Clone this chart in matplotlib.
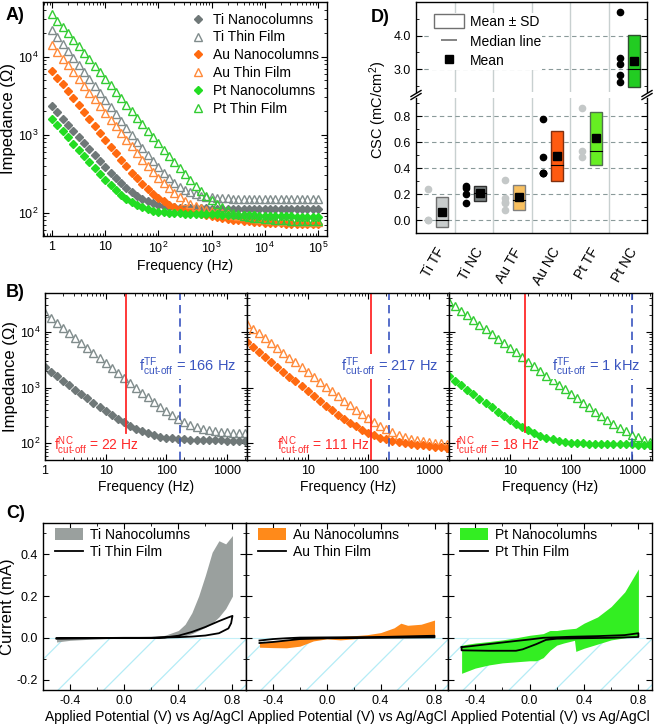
import numpy as np
import matplotlib
matplotlib.use("Agg")
import matplotlib.pyplot as plt
from matplotlib import ticker
from matplotlib.patches import Rectangle, Patch
from matplotlib.lines import Line2D

plt.rcParams.update({
    "font.family": ["Liberation Sans", "DejaVu Sans"],
    "font.size": 10,
    "xtick.labelsize": 9,
    "ytick.labelsize": 9,
    "mathtext.fontset": "custom",
    "mathtext.rm": "Liberation Sans",
    "mathtext.it": "Liberation Sans:italic",
    "mathtext.bf": "Liberation Sans:bold",
    "axes.unicode_minus": False,
    "xtick.direction": "in", "ytick.direction": "in",
    "xtick.top": True, "ytick.right": True,
    "xtick.major.size": 4, "ytick.major.size": 4,
    "xtick.minor.size": 2, "ytick.minor.size": 2,
    "axes.linewidth": 1.0,
})
YLAB = 12

# ====== A / B: impedance spectra ======
freq = [1, 1.259, 1.585, 1.995, 2.512, 3.162, 3.981, 5.012, 6.31, 7.943,
        10, 12.59, 15.85, 19.95, 25.12, 31.62, 39.81, 50.12, 63.1, 79.43,
        100, 125.9, 158.5, 199.5, 251.2, 316.2, 398.1, 501.2, 631, 794.3,
        1000, 1259, 1585, 1995, 2512, 3162, 3981, 5012, 6310, 7943,
        10000, 12590, 15850, 19950, 25120, 31620, 39810, 50120, 63100, 79430, 100000]

z_ti_nc = [2300, 1916, 1595, 1328, 1107, 923, 770, 643, 539, 452,
           382, 323, 276, 238, 208, 183, 165, 150, 140, 132,
           126, 122, 119, 117, 115, 114, 114, 113, 113, 113,
           112, 112, 112, 112, 112, 112, 112, 112, 112, 112,
           112, 112, 112, 112, 112, 111, 111, 111, 111, 111, 111]
z_ti_tf = [22000, 17880, 14540, 11810, 9600, 7800, 6350, 5160, 4190, 3410,
           2770, 2255, 1836, 1496, 1218, 994, 813, 666, 549, 454,
           380, 321, 275, 240, 214, 195, 181, 171, 164, 159,
           156, 154, 153, 152, 151, 151, 150, 150, 150, 150,
           149, 149, 149, 149, 148, 148, 148, 148, 148, 147, 147]
z_au_nc = [6600, 5378, 4381, 3571, 2910, 2372, 1933, 1576, 1286, 1050,
           857, 702, 575, 473, 391, 325, 273, 232, 200, 174,
           154, 139, 126, 117, 111, 106, 101, 97.6, 94.4, 91.6,
           89.1, 86.8, 84.6, 82.6, 80.6, 79.4, 78.2, 77.1, 76.1, 75,
           74, 74, 73, 73, 72, 72, 72, 71, 71, 71, 71]
z_au_tf = [14000, 11460, 9380, 7680, 6280, 5140, 4210, 3446, 2822, 2310,
           1892, 1550, 1270, 1042, 855, 703, 579, 478, 396, 331,
           279, 237, 204, 178, 158, 142, 130, 121, 114, 109,
           106, 102, 99, 96, 93, 91, 89, 86.5, 84, 83,
           82, 81, 80, 79, 78, 77, 77, 76, 76, 75, 75]
z_pt_nc = [1603, 1329, 1103, 916, 761, 633, 528, 441, 370, 311,
           263, 225, 193, 170, 151, 136, 125, 117, 110, 106,
           103, 101, 99.4, 98.4, 97.6, 97.1, 96.8, 96.5, 96, 95.5,
           95, 94.6, 94.2, 93.8, 93.4, 93, 92.6, 92.2, 91.8, 91.4,
           91, 90.6, 90.2, 89.8, 89.4, 89, 88.6, 88.2, 87.8, 87.4, 87]
z_pt_tf = [35000, 28910, 23880, 19730, 16300, 13460, 11120, 9185, 7588, 6268,
           5178, 4278, 3533, 2919, 2412, 1993, 1647, 1362, 1125, 931,
           771, 639, 530, 441, 368, 308, 259, 220, 188, 163,
           143, 127, 116, 107, 99.2, 94.6, 90.5, 87.7, 85.6, 84,
           82.7, 81.7, 80.8, 80.3, 79.6, 79, 78.4, 78.3, 77.7, 77.2, 77.2]

c_ti_nc, c_ti_tf = "#6f7878", "#808c8c"
c_au_nc, c_au_tf = "#ff6a10", "#ff8a3a"
c_pt_nc, c_pt_tf = "#22dd22", "#33cc33"

# cut-off frequencies (Hz): NC, TF
cut_nc = [22, 111, 18]
cut_tf = [166, 217, 1000]
cut_tf_text = ["166 Hz", "217 Hz", "1 kHz"]
cut_nc_text = ["22 Hz", "111 Hz", "18 Hz"]

# ====== C: cyclic voltammetry ======
ti_nc_v = [-0.5, -0.4, -0.2, 0.0, 0.2, 0.3, 0.4, 0.45, 0.5, 0.55, 0.6, 0.65, 0.7, 0.75, 0.8]
ti_nc_up = [-0.005, 0.0, 0.0, 0.0, 0.004, 0.012, 0.035, 0.065, 0.12, 0.2, 0.3, 0.41, 0.465, 0.45, 0.49]
ti_nc_lo = [-0.02, -0.012, -0.005, 0.0, 0.0, 0.0, 0.004, 0.01, 0.02, 0.035, 0.05, 0.07, 0.1, 0.14, 0.2]
ti_tf_v = [-0.5, -0.2, 0.0, 0.2, 0.3, 0.4, 0.5, 0.6, 0.7, 0.77, 0.8,
           0.79, 0.77, 0.7, 0.6, 0.5, 0.4, 0.2, 0.0, -0.2, -0.5]
ti_tf_i = [-0.003, -0.001, 0.0, 0.0, 0.002, 0.01, 0.028, 0.052, 0.08, 0.098, 0.105,
           0.07, 0.045, 0.022, 0.011, 0.006, 0.003, 0.0, -0.001, -0.002, -0.003]

au_nc_v = [-0.5, -0.4, -0.3, -0.2, -0.1, 0.0, 0.1, 0.2, 0.3, 0.4, 0.5, 0.55, 0.6, 0.7, 0.8]
au_nc_up = [-0.02, -0.015, -0.01, -0.004, 0.0, 0.003, 0.006, 0.01, 0.015, 0.025, 0.048, 0.07, 0.06, 0.065, 0.085]
au_nc_lo = [-0.045, -0.047, -0.048, -0.04, -0.015, -0.005, -0.01, -0.005, 0.0, 0.001, 0.002, 0.003, 0.004, 0.005, 0.01]
au_tf_v = [-0.5, -0.4, -0.3, -0.2, 0.0, 0.4, 0.8, 0.8, 0.4, 0.0, -0.2, -0.3, -0.4, -0.5]
au_tf_i = [-0.013, -0.006, -0.002, 0.001, 0.002, 0.004, 0.01, 0.002, 0.0, -0.002, -0.006, -0.013, -0.02, -0.025]

pt_nc_v = [-0.5, -0.4, -0.3, -0.2, -0.1, 0.0, 0.05, 0.1, 0.15, 0.2, 0.25, 0.33, 0.34, 0.4, 0.5, 0.6, 0.7, 0.8]
pt_nc_up = [-0.035, -0.025, -0.018, -0.01, 0.0, 0.012, 0.016, 0.02, 0.035, 0.035, 0.04, 0.045, 0.046, 0.07, 0.1, 0.15, 0.22, 0.33]
pt_nc_lo = [-0.17, -0.145, -0.13, -0.12, -0.115, -0.11, -0.11, -0.095, -0.06, -0.035, -0.025, -0.012, -0.065, -0.05, -0.03, -0.01, 0.0, 0.01]
pt_tf_v = [-0.5, -0.3, -0.1, 0.0, 0.1, 0.3, 0.5, 0.7, 0.8,
           0.8, 0.6, 0.4, 0.2, 0.12, 0.05, -0.05, -0.1, -0.3, -0.5, -0.5]
pt_tf_i = [-0.045, -0.03, -0.015, -0.008, 0.0, 0.005, 0.008, 0.013, 0.022,
           0.004, 0.0, -0.002, -0.004, -0.01, -0.03, -0.055, -0.062, -0.062, -0.06, -0.045]

# ====== D: charge storage capacity ======
cats = ["Ti TF", "Ti NC", "Au TF", "Au NC", "Pt TF", "Pt NC"]
csc_points = [[0.24, 0.005, 0.0],
              [0.26, 0.245, 0.20, 0.13],
              [0.31, 0.17, 0.14, 0.13, 0.08],
              [0.775, 0.485, 0.36, 0.36, 0.365],
              [0.86, 0.53, 0.49],
              [4.7, 3.32, 3.15, 2.82, 2.6]]
csc_mean = [0.064, 0.207, 0.175, 0.495, 0.63, 3.24]
csc_sd = [0.117, 0.057, 0.099, 0.195, 0.205, 0.77]
csc_median = [0.005, 0.21, 0.155, 0.425, 0.533, 3.0]
box_face = ["#c8cccc", "#7a8282", "#f8c060", "#ff5a10", "#66ee22", "#22cc22"]
box_edge = ["#707070", "#303030", "#808080", "#803010", "#507050", "#305030"]
pt_color = ["#c4c8c8", "black", "#c4c8c8", "black", "#c4c8c8", "black"]

W, H = 655, 726
fig = plt.figure(figsize=(W / 100, H / 100), dpi=100)


def add_ax(x0, y0, x1, y1):
    return fig.add_axes([x0 / W, 1 - y1 / H, (x1 - x0) / W, (y1 - y0) / H])


def nc_style(c):
    return dict(ls="none", marker="D", ms=4.2, color=c, mec=c)


def tf_style(c):
    return dict(ls="none", marker="^", ms=5.5, mfc="none", mec=c, mew=1.0)


# ---------- A ----------
axA = add_ax(43, 2, 327, 236)
axA.plot(freq, z_ti_nc, label="Ti Nanocolumns", **nc_style(c_ti_nc))
axA.plot(freq, z_ti_tf, label="Ti Thin Film", **tf_style(c_ti_tf))
axA.plot(freq, z_au_nc, label="Au Nanocolumns", **nc_style(c_au_nc))
axA.plot(freq, z_au_tf, label="Au Thin Film", **tf_style(c_au_tf))
axA.plot(freq, z_pt_nc, label="Pt Nanocolumns", **nc_style(c_pt_nc))
axA.plot(freq, z_pt_tf, label="Pt Thin Film", **tf_style(c_pt_tf))
axA.set_xscale("log")
axA.set_yscale("log")
axA.set_xlim(10 ** -0.17, 10 ** 5.17)
axA.set_ylim(50, 50000)
axA.set_xticks([1, 10, 1e2, 1e3, 1e4, 1e5])
axA.set_xticklabels(["1", "10", "10$^2$", "10$^3$", "10$^4$", "10$^5$"])
axA.set_yticks([1e2, 1e3, 1e4])
axA.set_yticklabels(["10$^2$", "10$^3$", "10$^4$"])
axA.xaxis.set_minor_formatter(ticker.NullFormatter())
axA.yaxis.set_minor_formatter(ticker.NullFormatter())
axA.set_xlabel("Frequency (Hz)", labelpad=2)
axA.set_ylabel("Impedance (Ω)", labelpad=1, fontsize=YLAB)
axA.legend(loc="upper left", bbox_to_anchor=(0.52, 0.955), frameon=False,
           handlelength=1.0, handletextpad=0.6, labelspacing=0.28,
           borderaxespad=0, borderpad=0, numpoints=1)

# ---------- B ----------
b_sets = [(z_ti_nc, z_ti_tf, c_ti_nc, c_ti_tf),
          (z_au_nc, z_au_tf, c_au_nc, c_au_tf),
          (z_pt_nc, z_pt_tf, c_pt_nc, c_pt_tf)]
b_x = [(45, 247), (247, 449), (449, 652)]
red_ymin = [0.16, 0.0, 0.17]
x_red = [0.045, 0.15, 0.03]
fb = [f for f in freq if f <= 2000]
nb = len(fb)
for i, (znc, ztf, cnc, ctf) in enumerate(b_sets):
    ax = add_ax(b_x[i][0], 293, b_x[i][1], 460)
    ax.plot(fb, ztf[:nb], **tf_style(ctf))
    ax.plot(fb, znc[:nb], **nc_style(cnc))
    ax.axvline(cut_nc[i], ymin=red_ymin[i], color="#ff2a2a", lw=1.3)
    ax.axvline(cut_tf[i], color="#3a55c0", lw=1.2, ls=(0, (5, 3)))
    ax.set_xscale("log")
    ax.set_yscale("log")
    ax.set_xlim(1, 2150)
    ax.set_ylim(50, 50000)
    ax.set_xticks([1, 10, 100, 1000])
    ax.set_xticklabels(["1" if i == 0 else "", "10", "100", "1000"])
    ax.xaxis.set_minor_formatter(ticker.NullFormatter())
    ax.yaxis.set_minor_formatter(ticker.NullFormatter())
    ax.set_yticks([1e2, 1e3, 1e4])
    if i == 0:
        ax.set_yticklabels(["10$^2$", "10$^3$", "10$^4$"])
        ax.set_ylabel("Impedance (Ω)", labelpad=1, fontsize=YLAB)
    else:
        ax.set_yticklabels([])
    ax.set_xlabel("Frequency (Hz)", labelpad=2)
    ax.text(0.945, 0.56, r"f$^{\mathrm{TF}}_{\text{cut-off}}$ = " + cut_tf_text[i],
            transform=ax.transAxes, ha="right", va="center", color="#3a55c0", fontsize=10.5,
            bbox=dict(facecolor="white", edgecolor="none", pad=1), zorder=5)
    ax.text(x_red[i], 0.085, r"f$^{\mathrm{NC}}_{\text{cut-off}}$ = " + cut_nc_text[i],
            transform=ax.transAxes, ha="left", va="center", color="#ff2a2a", fontsize=10,
            zorder=5)

# ---------- C ----------
c_sets = [(ti_nc_v, ti_nc_up, ti_nc_lo, ti_tf_v, ti_tf_i, "#9aa09e", "Ti"),
          (au_nc_v, au_nc_up, au_nc_lo, au_tf_v, au_tf_i, "#ff8a1a", "Au"),
          (pt_nc_v, pt_nc_up, pt_nc_lo, pt_tf_v, pt_tf_i, "#33ee22", "Pt")]
c_x = [(43, 246), (246, 448), (448, 652)]
c_ylim = (-0.25, 0.55)
c_xlim = (-0.6, 0.9)
for i, (v, up, lo, tv, ti, fc, metal) in enumerate(c_sets):
    ax = add_ax(c_x[i][0], 523, c_x[i][1], 690)
    ax.set_xlim(*c_xlim)
    ax.set_ylim(*c_ylim)
    # light cyan hatching of the cathodic region
    clip = Rectangle((c_xlim[0], c_ylim[0]), c_xlim[1] - c_xlim[0], -c_ylim[0],
                     transform=ax.transData, facecolor="none", edgecolor="none")
    ax.add_patch(clip)
    bb = ax.get_position()
    aspect = (bb.width * W) / (bb.height * H)
    for x0 in np.arange(-1.5, 1.2, 0.225):
        ln, = ax.plot([x0, x0 + 1.0 / aspect], [0, 1], transform=ax.transAxes,
                      color="#b4ecf6", lw=0.9, zorder=0)
        ln.set_clip_path(clip)
    ax.axhline(0, color="#c4f0f8", lw=0.8, zorder=0)
    ax.fill_between(v, lo, up, color=fc, lw=0, zorder=2)
    ax.plot(tv, ti, color="black", lw=1.3, zorder=3)
    ax.xaxis.set_major_locator(ticker.FixedLocator([-0.4, 0.0, 0.4, 0.8]))
    ax.xaxis.set_major_formatter(ticker.FormatStrFormatter("%.1f"))
    ax.xaxis.set_minor_locator(ticker.MultipleLocator(0.2))
    ax.yaxis.set_major_locator(ticker.MultipleLocator(0.2))
    ax.yaxis.set_minor_locator(ticker.MultipleLocator(0.1))
    ax.yaxis.set_major_formatter(ticker.FormatStrFormatter("%.1f"))
    if i == 0:
        ax.set_ylabel("Current (mA)", labelpad=1, fontsize=YLAB)
    else:
        ax.set_yticklabels([])
    ax.set_xlabel("Applied Potential (V) vs Ag/AgCl", labelpad=2)
    handles = [Patch(facecolor=fc, edgecolor="none"), Line2D([], [], color="black", lw=1.3)]
    ax.legend(handles, [metal + " Nanocolumns", metal + " Thin Film"], loc="upper left",
              bbox_to_anchor=(0.06, 0.97), frameon=False, handlelength=2.0,
              handleheight=0.9, handletextpad=0.5, labelspacing=0.2,
              borderaxespad=0, borderpad=0)

# ---------- D ----------
axDu = add_ax(416, 2, 647, 92)
axDl = add_ax(416, 98, 647, 233)
for ax in (axDu, axDl):
    for s in np.arange(0.5, 5.5, 1.0):
        ax.axvline(s, color="#c8d0d0", lw=1.0, zorder=0)
    for k in range(len(cats)):
        pts = csc_points[k]
        ax.plot([k - 0.2] * len(pts), pts, ls="none", marker="o", ms=4.5,
                color=pt_color[k], zorder=3)
        ax.add_patch(Rectangle((k + 0.01, csc_mean[k] - csc_sd[k]), 0.32, 2 * csc_sd[k],
                               facecolor=box_face[k], edgecolor=box_edge[k], lw=1.0, zorder=2))
        ax.plot([k + 0.01, k + 0.33], [csc_median[k]] * 2, color="black", lw=0.8, zorder=3)
        ax.plot([k + 0.17], [csc_mean[k]], ls="none", marker="s", ms=6, color="black", zorder=4)
    ax.set_xlim(-0.5, 5.5)
    ax.yaxis.grid(True, color="#8a9a9a", ls=(0, (4, 3)), lw=0.8)
    ax.set_axisbelow(True)
    ax.tick_params(axis="x", which="both", top=False, bottom=False)

axDu.set_ylim(2.31, 5.01)
axDu.yaxis.set_major_locator(ticker.FixedLocator([3.0, 4.0]))
axDu.yaxis.set_minor_locator(ticker.MultipleLocator(0.5))
axDu.yaxis.set_major_formatter(ticker.FormatStrFormatter("%.1f"))
axDu.set_xticks([])
axDu.spines["bottom"].set_visible(False)

axDl.set_ylim(-0.098, 0.94)
axDl.yaxis.set_major_locator(ticker.MultipleLocator(0.2))
axDl.yaxis.set_minor_locator(ticker.MultipleLocator(0.1))
axDl.yaxis.set_major_formatter(ticker.FormatStrFormatter("%.1f"))
axDl.spines["top"].set_visible(False)
axDl.set_xticks(range(len(cats)))
axDl.set_xticklabels(cats, rotation=60, ha="right", rotation_mode="anchor", fontsize=10)
axDl.tick_params(axis="x", pad=9)

# break marks
for xf in (0.0, 1.0):
    for dy in (-1.5, 1.5):
        xc = 416 + xf * 231
        yc = 95 + dy
        fig.add_artist(Line2D([(xc - 5) / W, (xc + 5) / W], [1 - (yc + 3) / H, 1 - (yc - 3) / H],
                              color="black", lw=1.0))

fig.text(378 / W, 1 - 110 / H, "CSC (mC/cm$^2$)", rotation=90, ha="center", va="center",
         fontsize=10.5)

d_handles = [Patch(facecolor="white", edgecolor="#707070", lw=1.0),
             Line2D([], [], ls="none", marker="_", ms=11, mew=1.2, color="#707070"),
             Line2D([], [], ls="none", marker="s", ms=6, color="black")]
legD = axDu.legend(d_handles, ["Mean ± SD", "Median line", "Mean"], loc="upper left",
                   bbox_to_anchor=(0.07, 0.88), frameon=True, facecolor="white",
                   edgecolor="none", framealpha=1.0, fancybox=False, handlelength=2.2,
                   handleheight=1.2, handletextpad=0.4, labelspacing=0.35,
                   borderaxespad=0, borderpad=0.1)
legD.set_zorder(6)

# panel letters
for lbl, x, y in [("A)", 6, 15), ("B)", 6, 292), ("C)", 6, 514), ("D)", 371, 17)]:
    fig.text(x / W, 1 - y / H, lbl, fontsize=13, fontweight="bold", ha="left", va="center")

fig.savefig("out.png", dpi=100)
